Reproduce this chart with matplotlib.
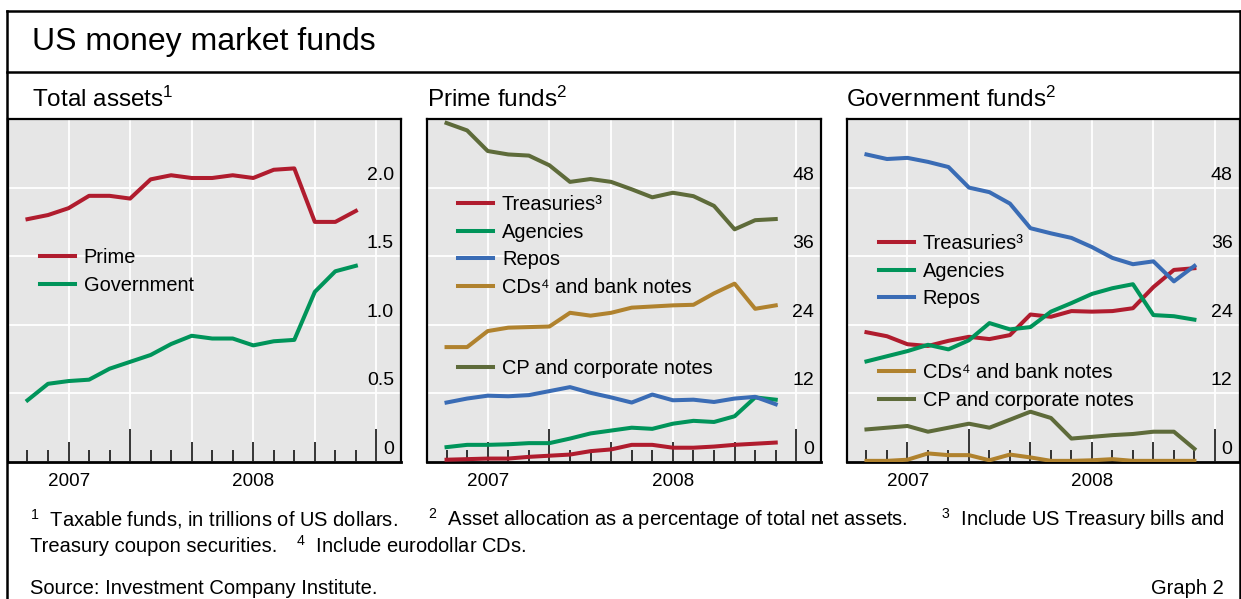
import matplotlib
matplotlib.use("Agg")
import matplotlib.pyplot as plt
import matplotlib.transforms as mtransforms
from matplotlib.lines import Line2D

plt.rcParams['font.family'] = ['Liberation Sans', 'DejaVu Sans']
plt.rcParams['mathtext.fontset'] = 'custom'
plt.rcParams['mathtext.rm'] = 'Liberation Sans'
plt.rcParams['mathtext.it'] = 'Liberation Sans:italic'
plt.rcParams['mathtext.bf'] = 'Liberation Sans:bold'

# month-end observations, Jul 2007 .. Nov 2008 (index 5 = Dec 2007, 17 = Dec 2008)
months = list(range(17))
year_ends = [5, 17]
quarter_ends = [2, 5, 8, 11, 14, 17]
year_labels = ['2007', '2008']

# total assets, trillions of USD
total_prime = [1.77, 1.80, 1.85, 1.94, 1.94, 1.92, 2.06, 2.09, 2.07, 2.07, 2.09, 2.07,
               2.13, 2.14, 1.75, 1.75, 1.83]
total_gov = [0.45, 0.57, 0.59, 0.60, 0.68, 0.73, 0.78, 0.86, 0.92, 0.90, 0.90, 0.85,
             0.88, 0.89, 1.24, 1.39, 1.43]

# prime funds, % of total net assets
prime_treas = [0.4, 0.5, 0.6, 0.6, 0.9, 1.1, 1.3, 1.9, 2.2, 3.0, 3.0, 2.5, 2.5, 2.7, 3.0, 3.2, 3.4]
prime_agency = [2.6, 3.0, 3.0, 3.1, 3.3, 3.3, 4.1, 5.0, 5.5, 6.0, 5.8, 6.7, 7.2, 7.0, 8.0, 11.3, 10.9]
prime_repo = [10.4, 11.1, 11.6, 11.5, 11.7, 12.4, 13.1, 12.1, 11.3, 10.4, 11.8, 10.8, 10.9, 10.5,
              11.1, 11.4, 10.1]
prime_cds = [20.1, 20.1, 22.9, 23.5, 23.6, 23.7, 26.1, 25.6, 26.1, 27.0, 27.2, 27.4, 27.5, 29.5,
             31.2, 26.8, 27.4]
prime_cp = [59.3, 58.0, 54.4, 53.8, 53.6, 51.9, 49.0, 49.5, 49.0, 47.7, 46.3, 47.1, 46.5, 44.8,
            40.7, 42.3, 42.5]

# government funds, % of total net assets
gov_treas = [22.7, 22.0, 20.6, 20.3, 21.2, 21.9, 21.5, 22.2, 25.8, 25.4, 26.4, 26.3, 26.4, 26.9,
             30.6, 33.6, 33.9]
gov_agency = [17.6, 18.5, 19.4, 20.5, 19.7, 21.3, 24.3, 23.2, 23.6, 26.3, 27.8, 29.4, 30.4, 31.1,
              25.7, 25.5, 24.9]
gov_repo = [53.8, 53.0, 53.2, 52.5, 51.6, 48.0, 47.2, 45.2, 40.9, 40.0, 39.2, 37.6, 35.7, 34.6,
            35.1, 31.6, 34.3]
gov_cds = [0.2, 0.2, 0.4, 1.5, 1.2, 1.2, 0.3, 1.3, 0.8, 0.2, 0.2, 0.3, 0.5, 0.2, 0.2, 0.2, 0.2]
gov_cp = [5.7, 6.0, 6.3, 5.3, 6.0, 6.7, 6.0, 7.4, 8.8, 7.7, 4.1, 4.4, 4.7, 4.9, 5.3, 5.3, 2.3]

RED = '#b01c2e'
GREEN = '#00945a'
BLUE = '#3a6cb5'
GOLD = '#b0822e'
OLIVE = '#5e6b3a'
BG = '#e6e6e6'

W, H = 1241, 599
fig = plt.figure(figsize=(W / 100, H / 100), dpi=100)

XLIM = (-0.95, 18.2)
LW = 2.9
FS_YT = 14
FS_XT = 13.6
FS_LEG = 14.4


def px_axes(left, width):
    return fig.add_axes([left / W, (H - 462) / H, width / W, 343 / H])


def style(ax, ymax, yticks, ylabels):
    ax.set_facecolor(BG)
    ax.set_xlim(*XLIM)
    ax.set_ylim(0, ymax)
    for s in ax.spines.values():
        s.set_linewidth(1.6)
        s.set_color('black')
    ax.spines['bottom'].set_linewidth(2.0)

    # y labels sit inside, on the right, just above their gridline
    ax.yaxis.tick_right()
    ax.set_yticks(yticks)
    ax.set_yticklabels(ylabels)
    ax.tick_params(axis='y', length=0, pad=-5, labelsize=FS_YT)
    off = mtransforms.ScaledTranslation(0, 4 / 100, fig.dpi_scale_trans)
    for lab in ax.get_yticklabels():
        lab.set_ha('right')
        lab.set_va('bottom')
        lab.set_transform(lab.get_transform() + off)
    ax.yaxis.grid(True, color='white', lw=1.3, zorder=1)

    for q in quarter_ends:
        ax.axvline(q, color='white', lw=1.3, zorder=1)

    # month ticks, longer at quarters and year ends
    ticks = list(range(year_ends[-1] + 1))
    ax.set_xticks(ticks)
    ax.set_xticklabels([])
    ax.tick_params(axis='x', which='major', direction='in', width=1.1, color='black', length=8.5)
    for t, m in zip(ax.xaxis.get_major_ticks(), ticks):
        if m in year_ends:
            t.tick1line.set_markersize(23.5)
        elif m in quarter_ends:
            t.tick1line.set_markersize(14.4)
        else:
            t.tick1line.set_markersize(8.5)

    # year labels centred on the visible part of each year
    ax.xaxis.remove_overlapping_locs = False
    left = XLIM[0]
    centres = []
    for ye in year_ends:
        centres.append((left + ye) / 2)
        left = ye
    ax.set_xticks(centres, minor=True)
    ax.set_xticklabels(year_labels, minor=True)
    ax.tick_params(axis='x', which='minor', length=0, pad=8, labelsize=FS_XT)


def leg(ax, handles, labels, x, y):
    lg = ax.legend(handles, labels, loc='upper left', bbox_to_anchor=(x, y), frameon=False,
                   fontsize=FS_LEG, handlelength=1.74, handletextpad=0.45, labelspacing=0.425,
                   borderpad=0, borderaxespad=0)
    for h in lg.get_lines():
        h.set_linewidth(LW)
    return lg


# panel 1: total assets
ax1 = px_axes(8, 393)
style(ax1, 2.5, [0, 0.5, 1.0, 1.5, 2.0], ['0', '0.5', '1.0', '1.5', '2.0'])
l_p, = ax1.plot(months, total_prime, color=RED, lw=LW, zorder=3)
l_g, = ax1.plot(months, total_gov, color=GREEN, lw=LW, zorder=3)
leg(ax1, [l_p, l_g], ['Prime', 'Government'], 0.081, 0.623)

# panel 2: prime funds
ax2 = px_axes(427, 394)
style(ax2, 60, [0, 12, 24, 36, 48], ['0', '12', '24', '36', '48'])
h_t, = ax2.plot(months, prime_treas, color=RED, lw=LW, zorder=3)
h_a, = ax2.plot(months, prime_agency, color=GREEN, lw=LW, zorder=3)
h_r, = ax2.plot(months, prime_repo, color=BLUE, lw=LW, zorder=3)
h_c, = ax2.plot(months, prime_cds, color=GOLD, lw=LW, zorder=3)
h_p, = ax2.plot(months, prime_cp, color=OLIVE, lw=LW, zorder=3)
lg_a = leg(ax2, [h_t, h_a, h_r, h_c],
           ['Treasuries\u00b3', 'Agencies', 'Repos', 'CDs\u2074 and bank notes'],
           0.079, 0.777)
ax2.add_artist(lg_a)
leg(ax2, [h_p], ['CP and corporate notes'], 0.079, 0.299)

# panel 3: government funds
ax3 = px_axes(847, 392.5)
style(ax3, 60, [0, 12, 24, 36, 48], ['0', '12', '24', '36', '48'])
g_t, = ax3.plot(months, gov_treas, color=RED, lw=LW, zorder=3)
g_a, = ax3.plot(months, gov_agency, color=GREEN, lw=LW, zorder=3)
g_r, = ax3.plot(months, gov_repo, color=BLUE, lw=LW, zorder=3)
g_c, = ax3.plot(months, gov_cds, color=GOLD, lw=LW, zorder=3)
g_p, = ax3.plot(months, gov_cp, color=OLIVE, lw=LW, zorder=3)
lg_b = leg(ax3, [g_t, g_a, g_r], ['Treasuries\u00b3', 'Agencies', 'Repos'], 0.081, 0.664)
ax3.add_artist(lg_b)
leg(ax3, [g_c, g_p], ['CDs\u2074 and bank notes', 'CP and corporate notes'], 0.081, 0.288)


# outer frame
def fline(xs, ys):
    fig.add_artist(Line2D([x / W for x in xs], [1 - y / H for y in ys], transform=fig.transFigure,
                          color='black', lw=1.8, solid_capstyle='projecting'))


fline([7, 7], [10.5, H])
fline([1239.5, 1239.5], [10.5, H])
fline([7, 1239.5], [10.5, 10.5])
fline([7, 1239.5], [71.5, 71.5])

fig.text(32 / W, 1 - 42 / H, 'US money market funds', fontsize=23, va='center')
fig.text(32 / W, 1 - 107 / H, r'Total assets$^{\mathrm{1}}$', fontsize=17.5, va='baseline')
fig.text(427 / W, 1 - 107 / H, r'Prime funds$^{\mathrm{2}}$', fontsize=17.5, va='baseline')
fig.text(846 / W, 1 - 107 / H, r'Government funds$^{\mathrm{2}}$', fontsize=17.5, va='baseline')

# footnotes (first line is justified to the right margin)
FS_NOTE = 14.5
fig.text(30 / W, 1 - 519 / H, r'$^{\mathrm{1}}$  Taxable funds, in trillions of US dollars.',
         fontsize=FS_NOTE, va='center')
fig.text(428 / W, 1 - 519 / H,
         r'$^{\mathrm{2}}$  Asset allocation as a percentage of total net assets.',
         fontsize=FS_NOTE, va='center')
fig.text(1224 / W, 1 - 519 / H, r'$^{\mathrm{3}}$  Include US Treasury bills and',
         fontsize=FS_NOTE, va='center', ha='right')
fig.text(30 / W, 1 - 546 / H, 'Treasury coupon securities.', fontsize=FS_NOTE, va='center')
fig.text(296 / W, 1 - 546 / H, r'$^{\mathrm{4}}$  Include eurodollar CDs.',
         fontsize=FS_NOTE, va='center')
fig.text(30 / W, 1 - 588 / H, 'Source: Investment Company Institute.', fontsize=FS_NOTE, va='center')
fig.text(1224 / W, 1 - 588 / H, 'Graph 2', fontsize=FS_NOTE, va='center', ha='right')

fig.savefig('out.png', dpi=100)
